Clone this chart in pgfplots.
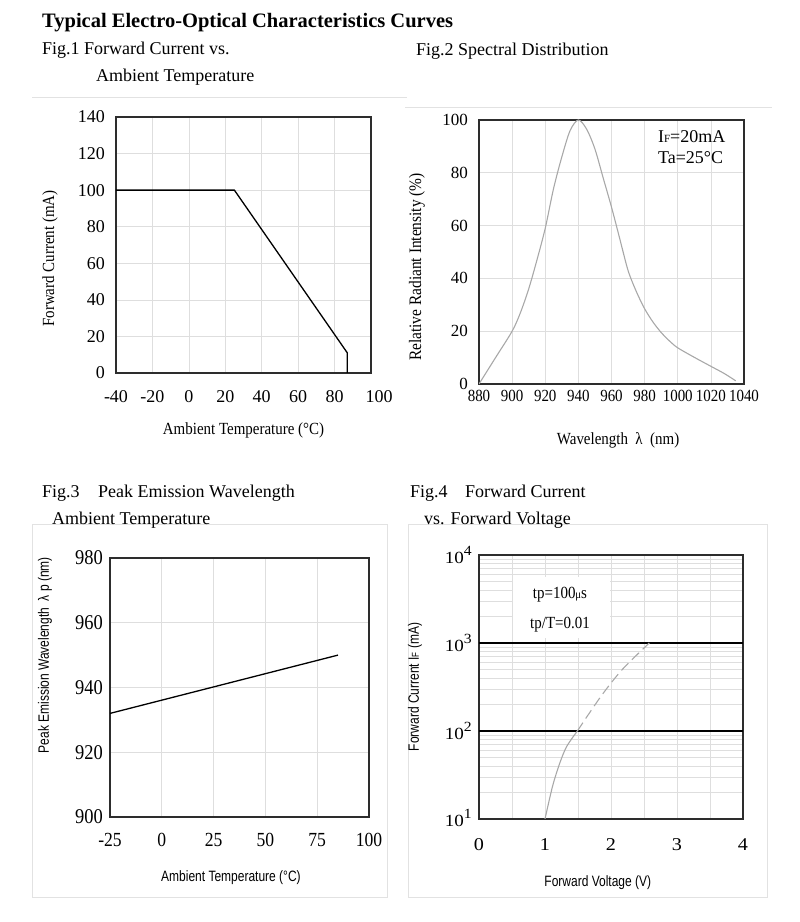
\documentclass[border=0pt]{standalone}
\usepackage{fontspec}
\setmainfont{Liberation Serif}
\newfontfamily\condserif[FakeStretch=0.88]{Liberation Serif}
\newfontfamily\wideserif[FakeStretch=1.12]{Liberation Serif}
\newfontfamily\narrowsans[FakeStretch=0.8]{Liberation Sans}
\usepackage{pgfplots}
\pgfplotsset{compat=1.18}
\newcommand{\fs}[1]{\fontsize{#1}{#1}\selectfont}
\newcommand{\tenp}[1]{10\raisebox{8pt}{\fs{14}#1}}
\definecolor{gridgray}{RGB}{222,222,222}
\definecolor{curvegray}{RGB}{168,168,168}
\definecolor{framegray}{RGB}{226,226,226}
\definecolor{axisdark}{RGB}{45,45,45}
\pgfplotsset{
  myaxis/.style={
    scale only axis, enlargelimits=false,
    axis line style={axisdark, line width=1.3pt},
    tick style={draw=none},
    grid style={gridgray, line width=0.6pt},
    every tick label/.append style={inner sep=0pt},
  }
}
\begin{document}
\begin{tikzpicture}
\path[use as bounding box] (0pt,0pt) rectangle (800pt,922pt);
% frames
\draw[framegray, line width=0.8pt] (32pt,825pt) -- (407pt,825pt);
\draw[framegray, line width=0.8pt] (405pt,815pt) -- (772pt,815pt);
\draw[framegray, line width=0.8pt] (32pt,25pt) rectangle (387pt,398pt);
\draw[framegray, line width=0.8pt] (408pt,25pt) rectangle (767pt,398pt);
% titles
\node[anchor=base west, inner sep=0pt, font=\bfseries\fs{20.5}] at (42pt,894pt) {Typical Electro-Optical Characteristics Curves};
\node[anchor=base west, inner sep=0pt, font=\fs{18}] at (42pt,867pt) {Fig.1 Forward Current vs.};
\node[anchor=base west, inner sep=0pt, font=\fs{18}] at (96pt,840pt) {Ambient Temperature};
\node[anchor=base west, inner sep=0pt, font=\fs{18}] at (416pt,866pt) {Fig.2 Spectral Distribution};
\node[anchor=base west, inner sep=0pt, font=\fs{18}] at (42pt,424pt) {Fig.3\hspace{18.5pt}Peak Emission Wavelength};
\node[anchor=base west, inner sep=0pt, font=\fs{18}] at (52pt,397pt) {Ambient Temperature};
\node[anchor=base west, inner sep=0pt, font=\fs{18}] at (410pt,424pt) {Fig.4\hspace{17.5pt}Forward Current};
\node[anchor=base west, inner sep=0pt, font=\fs{18}] at (424pt,397pt) {vs. Forward Voltage};

% Fig 1
\begin{axis}[myaxis, at={(116pt,549pt)}, anchor=south west, width=255pt, height=256pt,
  xmin=-40, xmax=100, ymin=0, ymax=140, grid=major,
  xtick={-40,-20,0,20,40,60,80,100}, xticklabels={-40,-20,0,20,40,60,80,\hspace*{16pt}100},
  ytick={0,20,40,60,80,100,120,140}, yticklabels={0,20,40,60,80,100,120,140},
  xticklabel style={font=\fs{18}, anchor=north, yshift=-17pt},
  yticklabel style={font=\fs{18}, anchor=east, xshift=-11pt},
  xlabel={Ambient Temperature (°C)}, ylabel={Forward Current (mA)},
  xlabel style={font=\condserif\fs{17}, at={(axis description cs:0.5,-0.223)}, anchor=center},
  ylabel style={font=\condserif\fs{17}, at={(axis description cs:-0.259,0.447)}, anchor=center},
]
\addplot[black, line width=1.3pt] coordinates {(-40,100) (25,100) (87,11) (87,0)};
\end{axis}

% Fig 2
\begin{axis}[myaxis, at={(479pt,538pt)}, anchor=south west, width=265pt, height=264pt,
  xmin=880, xmax=1040, ymin=0, ymax=100, grid=major,
  xtick={880,900,920,940,960,980,1000,1020,1040}, xticklabels={880,900,920,940,960,980,1000,1020,1040},
  ytick={0,20,40,60,80,100}, yticklabels={0,20,40,60,80,100},
  xticklabel style={font=\condserif\fs{17}, anchor=north, yshift=-6pt},
  yticklabel style={font=\fs{17}, anchor=east, xshift=-11pt},
  xlabel={Wavelength\ \ λ\ \ (nm)}, ylabel={Relative Radiant Intensity (\%)},
  xlabel style={font=\condserif\fs{17}, at={(axis description cs:0.525,-0.212)}, anchor=center},
  ylabel style={font=\condserif\fs{17.5}, at={(axis description cs:-0.234,0.443)}, anchor=center},
]
\addplot[curvegray, line width=1.1pt, smooth] coordinates {
 (880,0) (890,10) (900,20) (905,27) (910,36) (915,47) (920,59) (925,74) (930,86) (935,96)
 (940,100) (945,96.5) (950,89) (955,78) (960,67) (965,55) (970,43) (975,35) (980,28.5)
 (985,23.5) (990,19.5) (995,16.3) (1000,13.7) (1010,10.1) (1020,6.7) (1028,4) (1035,1.2)};
\node[anchor=base west, inner sep=0pt, font=\fs{18}] at (axis cs:988,91.3) {I{\fs{11}F}=20mA};
\node[anchor=base west, inner sep=0pt, font=\fs{18}] at (axis cs:988,83.7) {Ta=25°C};
\end{axis}

% Fig 3
\begin{axis}[myaxis, at={(110pt,105pt)}, anchor=south west, width=259pt, height=259pt,
  xmin=-25, xmax=100, ymin=900, ymax=980, grid=major,
  xtick={-25,0,25,50,75,100}, xticklabels={-25,0,25,50,75,100},
  ytick={900,920,940,960,980}, yticklabels={900,920,940,960,980},
  xticklabel style={font=\condserif\fs{20}, anchor=north, yshift=-16pt},
  yticklabel style={font=\condserif\fs{21}, anchor=east, xshift=-7pt},
  xlabel={Ambient Temperature (°C)}, ylabel={Peak Emission Wavelength\ \ λ p (nm)},
  xlabel style={font=\narrowsans\fs{15}, at={(axis description cs:0.467,-0.236)}, anchor=center},
  ylabel style={font=\narrowsans\fs{15}, at={(axis description cs:-0.251,0.625)}, anchor=center},
]
\addplot[black, line width=1.3pt] coordinates {(-25,932) (85,950)};
\end{axis}

% Fig 4
\begin{axis}[myaxis, ymode=log, at={(479pt,103pt)}, anchor=south west, width=264pt, height=264pt,
  xmin=0, xmax=4, ymin=10, ymax=10000,
  xmajorgrids, xminorgrids, ymajorgrids, yminorgrids,
  minor grid style={gridgray, line width=0.6pt},
  xtick={0,1,2,3,4}, xticklabels={0,1,2,3,4},
  minor xtick={0.5,1.5,2.5,3.5},
  ytick={10,100,1000,10000},
  yticklabels={\tenp{1},\tenp{2},\tenp{3},\tenp{4}},
  minor ytick={20,30,40,50,60,70,80,90,200,300,400,500,600,700,800,900,2000,3000,4000,5000,6000,7000,8000,9000},
  extra y ticks={100,1000}, extra y tick labels={},
  extra y tick style={grid=major, major grid style={black, line width=1.5pt}},
  xticklabel style={font=\wideserif\fs{18}, anchor=north, yshift=-19pt},
  yticklabel style={font=\wideserif\fs{17}, anchor=base east, xshift=-7pt, yshift=-8pt},
  xlabel={Forward Voltage (V)}, ylabel={Forward Current I{\fs{10}F} (mA)},
  xlabel style={font=\narrowsans\fs{15}, at={(axis description cs:0.45,-0.242)}, anchor=center},
  ylabel style={font=\narrowsans\fs{15}, at={(axis description cs:-0.242,0.5)}, anchor=center},
]
\fill[white] (axis cs:0.515,5600) rectangle (axis cs:1.985,1140);
\addplot[curvegray, line width=1.1pt, smooth] coordinates {
 (1.0,10) (1.116,23.8) (1.227,43.8) (1.33,67) (1.49,100)};
\addplot[curvegray, line width=1.1pt, smooth, dash pattern=on 10pt off 5pt] coordinates {
 (1.49,100) (1.85,249) (2.17,499) (2.58,1000)};
\node[inner sep=0pt, font=\condserif\fs{17}] at (axis cs:1.227,3508) {tp=100{\fs{12}μ}s};
\node[inner sep=0pt, font=\condserif\fs{17}] at (axis cs:1.227,1603) {tp/T=0.01};
\end{axis}
\end{tikzpicture}
\end{document}
